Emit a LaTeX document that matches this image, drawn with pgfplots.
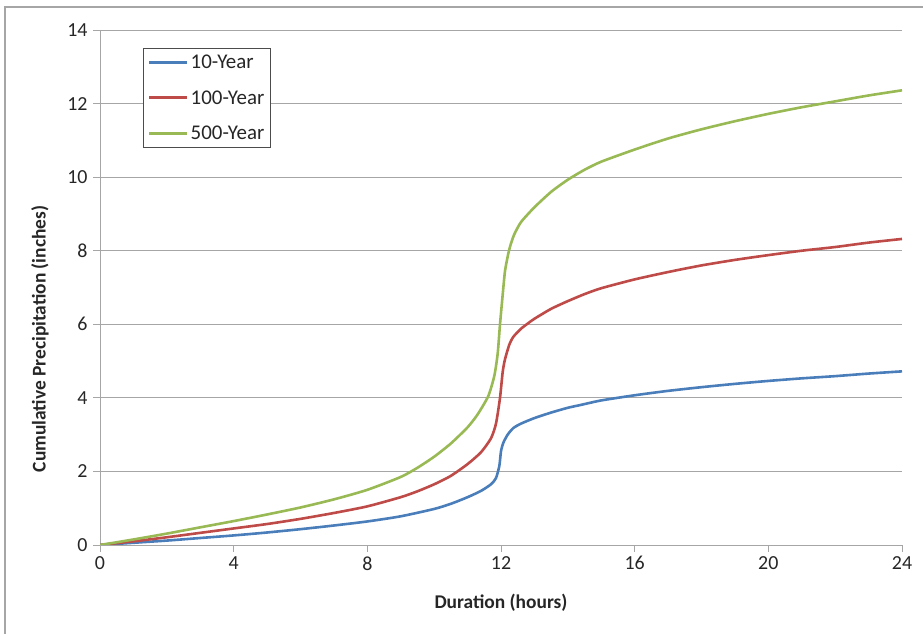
\documentclass[border=0pt]{standalone}
\usepackage{pgfplots}
\pgfplotsset{compat=1.18}
\usepackage{fontspec}
\setmainfont{Carlito}
\definecolor{c10}{HTML}{4A7EBB}
\definecolor{c100}{HTML}{BE4B48}
\definecolor{c500}{HTML}{98B954}
\definecolor{gridc}{HTML}{A6A6A6}
\definecolor{txt}{HTML}{262626}
\begin{document}
\begin{tikzpicture}[x=1bp,y=1bp]
\path[use as bounding box] (0,0) rectangle (923,634);
\draw[gray!70, line width=1.5bp] (5,0) -- (5,627) -- (923,627);
\begin{axis}[
  at={(100bp,89bp)}, anchor=south west,
  scale only axis, width=802bp, height=515bp,
  xmin=0, xmax=24, ymin=0, ymax=14,
  xtick={0,4,...,24}, ytick={0,2,...,14},
  axis x line*=bottom, axis y line*=left,
  axis line style={gridc, line width=0.8bp},
  ymajorgrids, major grid style={gridc, line width=0.8bp},
  tick style={gridc, line width=0.8bp},
  tick align=outside, major tick length=7bp,
  /pgf/number format/assume math mode=true,
  tick label style={font=\fontsize{20}{24}\selectfont, text=txt},
  xticklabel style={yshift=-1bp},
  yticklabel style={xshift=-2bp},
  xlabel={Duration (hours)}, ylabel={Cumulative Precipitation (inches)},
  label style={font=\bfseries\fontsize{19.5}{23}\selectfont, text=txt},
  xlabel style={at={(axis description cs:0.5,-0.113)}, anchor=center},
  ylabel style={at={(axis description cs:-0.075,0.40)}, anchor=center},
  legend style={at={(axis description cs:0.054,0.965)}, anchor=north west,
    draw=black!70, line width=0.8bp, font=\fontsize{21}{24}\selectfont,
    inner xsep=4bp, inner ysep=5bp, row sep=16bp, text=txt},
  legend cell align=left,
  legend image code/.code={\draw[#1, line width=3bp] (0bp,0bp) -- (38bp,0bp);},
  every axis plot/.append style={line width=2.6bp, line join=round, smooth, tension=0.4},
]
\addplot[c10] coordinates {
(0,0) (1,0.06) (2,0.12) (3,0.19) (4,0.26) (5,0.34) (6,0.43) (7,0.53) (8,0.64)
(9,0.78) (10,0.98) (10.5,1.12) (11,1.30) (11.4,1.47) (11.7,1.65) (11.85,1.82)
(11.95,2.15) (12.0,2.55) (12.07,2.78) (12.2,3.0) (12.37,3.18) (12.6,3.3) (13,3.45)
(13.5,3.6) (14,3.73) (14.4,3.81) (15,3.93) (16,4.07) (17,4.19) (18,4.29) (19,4.38)
(20,4.46) (21,4.53) (22,4.59) (23,4.66) (24,4.72)};
\addlegendentry{10-Year}
\addplot[c100] coordinates {
(0,0) (1,0.1) (2,0.21) (3,0.33) (4,0.45) (5,0.57) (6,0.71) (7,0.87) (8,1.05)
(9,1.3) (9.5,1.46) (10,1.65) (10.5,1.88) (11,2.2) (11.4,2.52)
(11.7,2.9) (11.85,3.3) (11.97,4.0) (12.05,4.7) (12.12,5.05) (12.25,5.45) (12.37,5.66)
(12.6,5.88) (12.8,6.02) (13,6.15) (13.5,6.42) (14,6.63) (14.5,6.82) (15,6.98) (16,7.22)
(17,7.42) (18,7.6) (19,7.75) (20,7.88) (21,8.0) (22,8.1) (23,8.22) (24,8.32)};
\addlegendentry{100-Year}
\addplot[c500] coordinates {
(0,0) (1,0.15) (2,0.31) (3,0.48) (4,0.65) (5,0.83) (6,1.02) (7,1.24) (8,1.5)
(9,1.85) (9.5,2.1) (10,2.4) (10.5,2.76) (11,3.2) (11.3,3.55) (11.62,4.05)
(11.8,4.6) (11.9,5.2) (11.97,6.0) (12.05,6.8) (12.12,7.45) (12.22,7.93) (12.3,8.2)
(12.4,8.45) (12.6,8.78) (13,9.18) (13.5,9.6) (14,9.93) (14.5,10.2) (15,10.42)
(16,10.75) (17,11.05) (18,11.3) (19,11.52) (20,11.72) (21,11.9) (22,12.06)
(23,12.22) (24,12.36)};
\addlegendentry{500-Year}
\end{axis}
\end{tikzpicture}
\end{document}
